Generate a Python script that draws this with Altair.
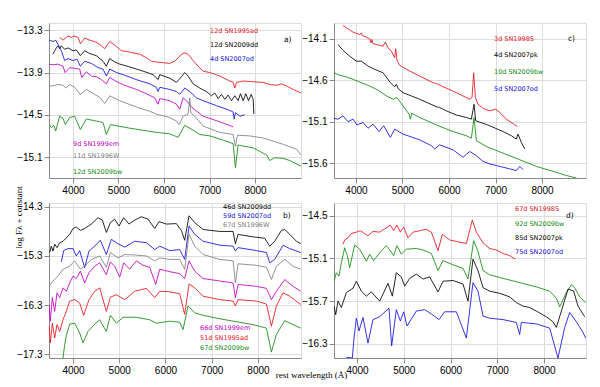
import altair as alt
import pandas as pd

# ---------------- Panel a) early phases ----------------
a_95ad_wl = [3708,3781,3891,3964,4023,4111,4162,4257,4367,4477,4587,4697,4807,4917,4990,5064,5174,5320,5467,5613,5723,5833,5980,6126,6236,6310,6383,6456,6530,6640,6749,6859,7006,7226,7446,7519,7556,7592,7739,7959,8179,8325,8472,8582,8692,8839,9007]
a_95ad_f = [-13.40,-13.44,-13.38,-13.40,-13.38,-13.40,-13.49,-13.41,-13.44,-13.46,-13.50,-13.56,-13.46,-13.51,-13.55,-13.59,-13.60,-13.62,-13.64,-13.69,-13.74,-13.75,-13.76,-13.77,-13.74,-13.69,-13.64,-13.62,-13.64,-13.73,-13.81,-13.88,-13.90,-13.95,-14.02,-14.04,-14.12,-14.04,-14.02,-14.03,-14.04,-14.07,-14.08,-14.06,-14.09,-14.14,-14.19]

a_09dd_wl = [3561,3598,3634,3671,3708,3744,3818,3891,4001,4074,4162,4257,4367,4514,4660,4734,4807,4917,5027,5247,5540,5760,5870,5907,6126,6273,6383,6456,6530,6640,6786,6933,7043,7116,7190,7263,7336,7409,7483,7556,7629,7680,7739,7797,7856,7915,7959,7974]
a_09dd_f = [-13.64,-13.59,-13.55,-13.52,-13.56,-13.52,-13.57,-13.55,-13.59,-13.58,-13.66,-13.59,-13.63,-13.66,-13.74,-13.81,-13.70,-13.75,-13.78,-13.82,-13.88,-13.93,-14.00,-13.93,-13.98,-14.04,-13.96,-13.90,-13.95,-14.06,-14.12,-14.17,-14.23,-14.19,-14.27,-14.21,-14.28,-14.22,-14.30,-14.23,-14.30,-14.20,-14.30,-14.20,-14.30,-14.21,-14.28,-14.49]

a_07od_wl = [3488,3561,3620,3671,3744,3818,3891,4001,4089,4162,4257,4404,4550,4660,4734,4807,4954,5100,5393,5687,5833,5870,5907,6126,6273,6346,6456,6566,6713,6859,7153,7373,7519,7541,7570,7666,7775]
a_07od_f = [-13.44,-13.46,-13.44,-13.50,-13.59,-13.73,-13.70,-13.73,-13.71,-13.81,-13.74,-13.77,-13.83,-13.85,-13.95,-13.85,-13.90,-13.93,-14.00,-14.06,-14.11,-14.17,-14.11,-14.14,-14.17,-14.21,-14.12,-14.17,-14.26,-14.30,-14.37,-14.42,-14.46,-14.56,-14.47,-14.52,-14.50]

a_99em_wl = [3473,3561,3671,3781,3825,3927,4037,4147,4191,4294,4404,4514,4624,4734,4807,4990,5174,5393,5613,5796,5870,5907,6126,6273,6346,6420,6493,6603,6859,7226,7519]
a_99em_f = [-13.78,-13.79,-13.78,-13.81,-13.90,-13.83,-13.84,-13.85,-13.97,-13.89,-13.95,-13.96,-14.00,-14.06,-13.97,-14.04,-14.09,-14.14,-14.20,-14.26,-14.35,-14.27,-14.30,-14.35,-14.42,-14.26,-14.30,-14.39,-14.52,-14.60,-14.67]

a_96W_wl = [3473,3561,3671,3781,3840,3927,4037,4162,4294,4477,4587,4697,4807,5027,5393,5687,5833,6126,6273,6332,6420,6530,6566,6588,6676,6859,7226,7519,7570,7614,7886,8179,8325,8619,8912,9007]
a_96W_f = [-14.09,-14.09,-14.07,-14.08,-14.12,-14.07,-14.11,-14.21,-14.14,-14.21,-14.25,-14.34,-14.23,-14.30,-14.39,-14.45,-14.49,-14.54,-14.59,-14.64,-14.52,-14.49,-14.26,-14.47,-14.52,-14.66,-14.75,-14.78,-14.95,-14.79,-14.80,-14.83,-14.86,-14.92,-14.99,-15.07]

a_09bw_wl = [3473,3524,3576,3620,3708,3781,3832,3927,4037,4162,4294,4441,4587,4660,4734,4822,4990,5247,5540,5833,6126,6310,6456,6566,6786,7006,7299,7519,7570,7629,7959,8252,8325,8435,8619,8765,9007]
a_09bw_f = [-14.64,-14.68,-14.65,-14.73,-14.52,-14.55,-14.64,-14.54,-14.52,-14.71,-14.56,-14.58,-14.60,-14.61,-14.78,-14.64,-14.66,-14.69,-14.72,-14.75,-14.77,-14.82,-14.65,-14.69,-14.78,-14.80,-14.86,-14.91,-15.25,-14.93,-14.97,-15.07,-15.15,-15.11,-15.12,-15.15,-15.23]

# ---------------- Panel b) later phases ----------------
b_09dd_wl = [3495,3531,3568,3604,3654,3712,3784,3856,3928,4000,4072,4159,4252,4397,4541,4635,4721,4808,4901,4995,5096,5212,5334,5478,5622,5767,5860,6019,6235,6343,6415,6509,6632,6812,7172,7461,7511,7569,7894,8146,8254,8362,8506,8578,8687,8831,8925]
b_09dd_f = [-15.23,-15.10,-15.20,-15.06,-15.13,-15.03,-15.00,-14.93,-14.86,-14.74,-14.71,-14.78,-14.74,-14.65,-14.52,-14.57,-14.82,-14.62,-14.55,-14.69,-14.52,-14.65,-14.57,-14.50,-14.55,-14.74,-14.60,-14.65,-14.64,-14.78,-14.98,-14.48,-14.62,-14.76,-14.80,-14.80,-15.05,-14.86,-14.91,-14.94,-15.10,-15.00,-14.78,-14.76,-14.86,-15.00,-15.05]

b_07od_wl = [3748,3798,3892,4000,4072,4144,4252,4346,4469,4591,4721,4829,4973,5118,5334,5586,5767,5875,6091,6307,6415,6509,6632,6812,7172,7461,7511,7569,7966,8182,8254,8362,8542,8687,8925]
b_07od_f = [-15.42,-15.19,-15.15,-15.15,-15.30,-15.19,-15.54,-15.20,-15.10,-14.98,-15.27,-14.96,-15.05,-15.12,-15.00,-15.03,-15.17,-15.10,-15.19,-15.17,-15.37,-14.69,-14.86,-15.00,-15.08,-15.10,-15.20,-15.13,-15.19,-15.23,-15.44,-15.37,-15.08,-15.15,-15.23]

b_96W_wl = [3481,3568,3676,3784,3928,4036,4159,4252,4397,4577,4721,4808,4973,5118,5334,5586,5767,5875,6091,6307,6415,6509,6632,6812,7172,7461,7511,7569,7966,8182,8290,8398,8578,8759,8925]
b_96W_f = [-15.92,-15.81,-15.71,-15.57,-15.51,-15.40,-15.57,-15.51,-15.37,-15.30,-15.53,-15.23,-15.34,-15.27,-15.28,-15.30,-15.40,-15.34,-15.37,-15.37,-15.57,-14.86,-15.10,-15.27,-15.37,-15.40,-15.85,-15.46,-15.49,-15.53,-15.78,-15.51,-15.37,-15.51,-15.57]

b_99em_wl = [3481,3510,3553,3604,3654,3712,3784,3856,3928,4000,4072,4159,4252,4346,4469,4577,4721,4808,4901,5010,5096,5226,5370,5514,5658,5789,5875,6091,6307,6415,6509,6632,6812,7172,7461,7511,7569,7966,8182,8290,8398,8578,8759,8925]
b_99em_f = [-16.29,-16.63,-16.15,-16.43,-16.05,-16.15,-15.95,-16.02,-15.85,-15.71,-15.76,-15.61,-15.85,-15.64,-15.51,-15.44,-15.68,-15.42,-15.51,-15.73,-15.44,-15.57,-15.40,-15.49,-15.53,-15.88,-15.57,-15.62,-15.66,-15.76,-15.40,-15.61,-15.76,-15.81,-15.85,-16.15,-15.88,-15.92,-15.96,-16.19,-16.02,-15.78,-15.92,-16.02]

b_95ad_wl = [3481,3510,3553,3604,3654,3712,3784,3856,3928,4036,4144,4231,4346,4469,4577,4721,4808,4937,5118,5334,5586,5767,5875,6091,6307,6415,6509,6632,6812,7172,7461,7511,7569,7966,8182,8290,8398,8542,8687,8925]
b_95ad_f = [-16.70,-17.07,-16.67,-16.97,-16.70,-16.84,-16.60,-16.43,-16.22,-16.19,-16.26,-16.51,-16.19,-16.02,-15.95,-16.43,-16.14,-16.09,-16.19,-16.02,-15.96,-16.15,-16.02,-16.03,-16.07,-16.49,-15.87,-15.95,-16.12,-16.19,-16.22,-16.32,-16.19,-16.22,-16.28,-16.73,-16.32,-16.05,-16.12,-16.29]

b_09bw_wl = [3784,3820,3856,3928,4036,4144,4216,4324,4469,4577,4721,4808,4937,5082,5370,5658,5803,6091,6307,6379,6488,6632,6812,7172,7533,7894,8182,8290,8398,8578,8759,8925]
b_09bw_f = [-17.38,-17.11,-16.92,-16.69,-16.67,-16.87,-17.07,-16.84,-16.69,-16.60,-16.84,-16.51,-16.67,-16.55,-16.55,-16.60,-16.67,-16.63,-16.65,-16.80,-16.32,-16.46,-16.51,-16.58,-16.64,-16.70,-16.77,-17.26,-16.90,-16.62,-16.70,-16.77]

# ---------------- Panel c) very early phases ----------------
c_98S_wl = [3721,3828,3936,4079,4115,4136,4294,4323,4344,4366,4509,4581,4631,4689,4760,4832,4853,4882,4939,5155,5370,5405,5656,5728,5836,6158,6445,6495,6531,6567,6624,6732,6875,7005,7091,7234,7471]
c_98S_f = [-13.94,-13.98,-14.02,-14.05,-14.03,-14.06,-14.10,-14.15,-14.11,-14.16,-14.18,-14.19,-14.14,-14.21,-14.25,-14.33,-14.22,-14.36,-14.42,-14.49,-14.55,-14.56,-14.63,-14.64,-14.67,-14.75,-14.83,-14.81,-14.51,-14.81,-14.89,-14.94,-14.97,-14.95,-14.99,-15.07,-15.16]

c_07pk_wl = [3613,3721,3864,4007,4115,4258,4402,4581,4739,4832,4868,4904,5011,5370,5728,5800,5943,6158,6373,6481,6538,6574,6732,6875,7162,7341,7449,7484,7556,7628]
c_07pk_f = [-14.17,-14.24,-14.31,-14.37,-14.37,-14.43,-14.47,-14.51,-14.63,-14.68,-14.65,-14.70,-14.75,-14.83,-14.92,-14.93,-14.97,-15.02,-15.05,-15.07,-14.89,-15.09,-15.12,-15.15,-15.22,-15.27,-15.31,-15.25,-15.35,-15.43]

c_09bw_wl = [3527,3649,3792,3936,4115,4294,4473,4653,4796,4882,5011,5140,5169,5198,5370,5728,6087,6373,6481,6538,6589,6804,7162,7521,7879,8238,8524,8740]
c_09bw_f = [-14.51,-14.54,-14.56,-14.59,-14.63,-14.67,-14.72,-14.79,-14.83,-14.81,-14.91,-15.01,-15.07,-15.00,-15.05,-15.14,-15.22,-15.27,-15.30,-15.05,-15.33,-15.40,-15.48,-15.56,-15.64,-15.70,-15.75,-15.78]

c_07od_wl = [3527,3613,3721,3828,3936,4022,4151,4258,4366,4495,4596,4739,4832,5011,5370,5620,5692,5800,6087,6302,6445,6589,6732,6875,7019,7162,7305,7449,7521,7592]
c_07od_f = [-15.06,-15.07,-15.03,-15.10,-15.07,-15.14,-15.11,-15.18,-15.13,-15.22,-15.15,-15.29,-15.19,-15.25,-15.32,-15.39,-15.43,-15.38,-15.44,-15.53,-15.46,-15.51,-15.58,-15.61,-15.63,-15.65,-15.67,-15.69,-15.64,-15.68]

# ---------------- Panel d) plateau phases ----------------
d_98S_wl = [3700,3736,3807,3879,3986,4071,4164,4235,4342,4485,4627,4713,4784,4855,4927,4998,5091,5198,5341,5483,5590,5733,5826,5982,6125,6339,6467,6553,6695,6838,6980,7123,7265,7387]
d_98S_f = [-14.90,-14.84,-14.81,-14.75,-14.73,-14.71,-14.75,-14.78,-14.72,-14.73,-14.67,-14.63,-14.71,-14.63,-14.73,-14.66,-14.81,-14.73,-14.71,-14.69,-14.73,-14.99,-14.76,-14.84,-14.86,-14.89,-14.56,-14.73,-14.88,-14.96,-14.98,-15.03,-15.06,-15.11]

d_09bw_wl = [3508,3558,3615,3665,3736,3793,3843,3950,4057,4200,4271,4356,4485,4627,4713,4784,4855,4948,5055,5269,5412,5590,5733,5840,6053,6268,6374,6495,6588,6695,6838,7123,7479,7836,8121,8264,8335,8478,8584,8656,8763,8891]
d_09bw_f = [-15.42,-15.30,-15.35,-15.16,-14.95,-15.06,-15.23,-14.91,-14.97,-15.14,-15.04,-15.13,-15.02,-14.92,-14.99,-15.06,-14.92,-15.04,-14.97,-14.96,-14.98,-15.03,-15.27,-15.13,-15.19,-15.24,-15.39,-14.85,-15.00,-15.27,-15.33,-15.38,-15.44,-15.50,-15.56,-15.66,-15.78,-15.58,-15.47,-15.51,-15.64,-15.72]

d_07pk_wl = [3508,3544,3594,3665,3772,3914,3986,4093,4200,4307,4485,4663,4756,4841,4948,5020,5127,5269,5412,5554,5733,5840,6053,6268,6374,6481,6588,6695,6838,7051,7265,7408,7551,7693,7836,8050,8192,8264,8371,8514,8634,8727,8870]
d_07pk_f = [-15.77,-15.89,-15.70,-15.79,-15.58,-15.52,-15.42,-15.56,-15.63,-15.57,-15.70,-15.45,-15.63,-15.30,-15.36,-15.49,-15.38,-15.32,-15.39,-15.36,-15.57,-15.42,-15.41,-15.46,-15.70,-15.11,-15.27,-15.51,-15.56,-15.59,-15.64,-15.72,-15.77,-15.79,-15.84,-15.92,-15.99,-16.07,-15.84,-15.53,-15.56,-15.77,-15.92]

d_07od_wl = [3772,3900,3936,3986,4043,4128,4235,4342,4485,4684,4741,4841,4927,4998,5069,5269,5448,5590,5754,5875,6125,6339,6481,6588,6695,6838,7123,7408,7479,7515,7836,8121,8299,8442,8549,8692,8834,8891]
d_07od_f = [-16.49,-16.50,-16.22,-15.94,-16.12,-15.93,-16.29,-15.96,-15.92,-15.80,-16.33,-15.82,-15.98,-15.85,-16.05,-15.84,-15.82,-15.88,-15.96,-15.85,-15.85,-16.22,-15.44,-15.56,-15.91,-15.94,-15.96,-16.00,-16.17,-16.00,-16.02,-16.08,-16.50,-16.07,-15.86,-15.99,-16.14,-16.22]

X_TICKS = [4000, 5000, 6000, 7000, 8000]

RED, BLACK, BLUE, MAG, GRAY, GREEN = "#e8121b", "#000000", "#1010e0", "#c000c0", "#808080", "#108a10"


def frame(series):
    rows = []
    for name, wl, fl, _c in series:
        for i, (w, f) in enumerate(zip(wl, fl)):
            rows.append({"name": name, "wl": w, "flux": f, "order": i})
    return pd.DataFrame(rows)


def panel(series, xdom, ydom, yticks, top_labels, bottom_labels, tag, tagpos,
          ytitle=None, xtitle=None):
    df = frame(series)
    names = [s[0] for s in series]
    colors = [s[3] for s in series]
    xaxis_kw = dict(values=X_TICKS, format="d", title=None)
    if xtitle:
        xaxis_kw.update(title=xtitle, titleX=262, titleY=16, titleBaseline="middle",
                        titleFont="Liberation Serif", titleFontSize=9,
                        titleFontWeight="normal", titleColor="black")
    yaxis_kw = dict(values=yticks, format=".1f", title=None)
    if ytitle:
        yaxis_kw.update(title=ytitle, titleX=-26, titleY=194, titleAngle=-90,
                        titleAlign="center", titleBaseline="bottom",
                        titleFont="Liberation Serif", titleFontSize=9,
                        titleFontWeight="normal", titleColor="black")
    lines = alt.Chart(df).mark_line(clip=True, strokeWidth=0.85).encode(
        x=alt.X("wl:Q", scale=alt.Scale(domain=xdom, nice=False, zero=False),
                axis=alt.Axis(**xaxis_kw)),
        y=alt.Y("flux:Q", scale=alt.Scale(domain=ydom, nice=False, zero=False),
                axis=alt.Axis(**yaxis_kw)),
        color=alt.Color("name:N", scale=alt.Scale(domain=names, range=colors), legend=None),
        detail="name:N",
        order="order:Q",
    )
    layers = [lines]
    for (txt, col, px, py) in top_labels + bottom_labels:
        layers.append(
            alt.Chart(pd.DataFrame({"t": [txt]})).mark_text(
                align="left", baseline="middle", fontSize=6.5, font="DejaVu Sans", color=col
            ).encode(x=alt.value(px), y=alt.value(py), text="t:N")
        )
    layers.append(
        alt.Chart(pd.DataFrame({"t": [tag]})).mark_text(
            align="left", baseline="middle", fontSize=7.5, font="DejaVu Sans", color="black"
        ).encode(x=alt.value(tagpos[0]), y=alt.value(tagpos[1]), text="t:N")
    )
    return alt.layer(*layers).resolve_scale(color="independent").properties(width=252, height=155)


panel_a = panel(
    [("12d SN1995ad", a_95ad_wl, a_95ad_f, RED),
     ("12d SN2009dd", a_09dd_wl, a_09dd_f, BLACK),
     ("4d SN2007od", a_07od_wl, a_07od_f, BLUE),
     ("9d SN1999em", a_99em_wl, a_99em_f, MAG),
     ("11d SN1996W", a_96W_wl, a_96W_f, GRAY),
     ("12d SN2009bw", a_09bw_wl, a_09bw_f, GREEN)],
    [3473, 9010], [-15.398, -13.196], [-13.3, -13.9, -14.5, -15.1],
    [("12d SN1995ad", RED, 161, 8), ("12d SN2009dd", BLACK, 161, 22), ("4d SN2007od", BLUE, 161, 36)],
    [("9d SN1999em", MAG, 24, 121), ("11d SN1996W", GRAY, 24, 133), ("12d SN2009bw", GREEN, 24, 149)],
    "a)", (235, 17), ytitle="log Fλ + constant")

panel_c = panel(
    [("3d SN1998S", c_98S_wl, c_98S_f, RED),
     ("4d SN2007pk", c_07pk_wl, c_07pk_f, BLACK),
     ("10d SN2009bw", c_09bw_wl, c_09bw_f, GREEN),
     ("5d SN2007od", c_07od_wl, c_07od_f, BLUE)],
    [3527, 8946], [-15.78, -13.91], [-14.1, -14.6, -15.1, -15.6],
    [("3d SN1998S", RED, 160, 16), ("4d SN2007pk", BLACK, 160, 32),
     ("10d SN2009bw", GREEN, 160, 49), ("5d SN2007od", BLUE, 160, 66)],
    [], "c)", (234, 16))

panel_b = panel(
    [("46d SN2009dd", b_09dd_wl, b_09dd_f, BLACK),
     ("59d SN2007od", b_07od_wl, b_07od_f, BLUE),
     ("67d SN1996W", b_96W_wl, b_96W_f, GRAY),
     ("66d SN1999em", b_99em_wl, b_99em_f, MAG),
     ("51d SN1995ad", b_95ad_wl, b_95ad_f, RED),
     ("67d SN2009bw", b_09bw_wl, b_09bw_f, GREEN)],
    [3481, 8930], [-17.38, -14.22], [-14.3, -15.3, -16.3, -17.3],
    [("46d SN2009dd", BLACK, 174, 4), ("59d SN2007od", BLUE, 174, 13), ("67d SN1996W", GRAY, 174, 22)],
    [("66d SN1999em", MAG, 151, 125), ("51d SN1995ad", RED, 151, 135), ("67d SN2009bw", GREEN, 151, 145)],
    "b)", (234, 13), xtitle="rest wavelength (Å)")

panel_d = panel(
    [("67d SN1998S", d_98S_wl, d_98S_f, RED),
     ("92d SN2009bw", d_09bw_wl, d_09bw_f, GREEN),
     ("85d SN2007pk", d_07pk_wl, d_07pk_f, BLACK),
     ("75d SN2007od", d_07od_wl, d_07od_f, BLUE)],
    [3508, 8898], [-16.50, -14.32], [-14.5, -15.1, -15.7, -16.3],
    [("67d SN1998S", RED, 181, 6), ("92d SN2009bw", GREEN, 181, 21),
     ("85d SN2007pk", BLACK, 181, 35), ("75d SN2007od", BLUE, 181, 49)],
    [], "d)", (232, 13))

chart = alt.concat(
    panel_a, panel_c, panel_b, panel_d, columns=2,
    spacing={"row": 25, "column": 33}, bounds="flush"
).resolve_scale(
    color="independent"
).properties(
    padding={"left": 5, "top": 14, "right": 5, "bottom": 5}
).configure_view(
    stroke="#808080", strokeWidth=1
).configure_axis(
    domain=False, grid=False, ticks=True, tickSize=2, tickColor="#606060",
    labelFont="DejaVu Sans", labelFontSize=6, labelColor="black", labelPadding=0
).configure(background="white")

chart.save("out.html", embed_options={"renderer": "svg", "actions": False})
